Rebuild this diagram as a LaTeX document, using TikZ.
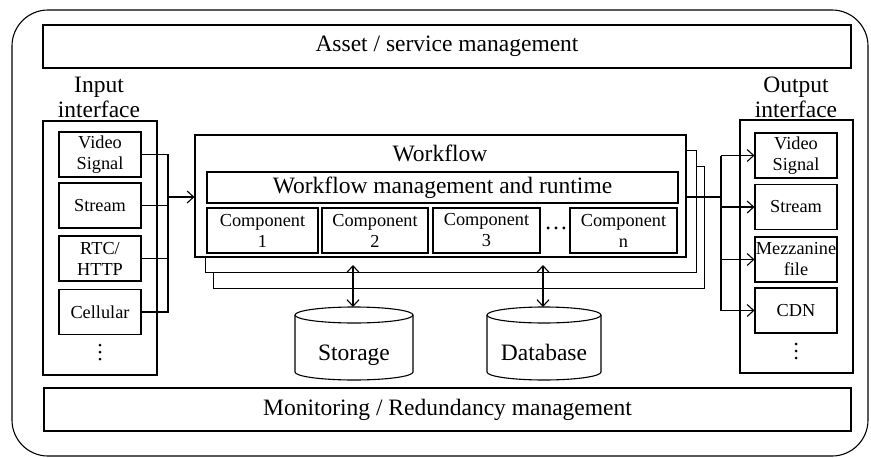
\documentclass[tikz,border=0pt]{standalone}
\usepackage{fontspec}
\setmainfont{Liberation Serif}
\usetikzlibrary{arrows.meta}

\begin{document}
\begin{tikzpicture}[x=1pt,y=-1pt,line width=1.1pt,
  big/.style={font=\fontsize{23.5}{25}\selectfont},
  small/.style={font=\fontsize{18.3}{21}\selectfont},
  panel/.style={draw,fill=white,inner sep=0pt,align=center},
  bigpanel/.style={panel,big},
  item/.style={panel,small,minimum width=82pt,minimum height=45pt},
  comp/.style={panel,small,minimum height=45pt},
  stack/.style={panel,minimum width=491pt,minimum height=122pt},
  barb/.tip={Straight Barb[length=6.5pt,width=12pt,line width=1.1pt]},
  arr/.style={-barb},
  darr/.style={barb-barb},
  dot/.style={circle,fill,inner sep=0pt,minimum size=3pt}]

\useasboundingbox (0,0) rectangle (871,458);

% outer frame
\draw[rounded corners=36pt] (12,10) rectangle (868,456);

% management bands
\node[bigpanel,minimum width=808pt,minimum height=43pt] (asset) at (447,46.5) {Asset / service management};
\node[bigpanel,minimum width=807pt,minimum height=43pt] (mon) at (447.5,409.5) {Monitoring / Redundancy management};

% input interface
\node[big,align=center,inner sep=0pt] (inlabel) at (99,97) {Input\\interface};
\node[panel,minimum width=114pt,minimum height=254pt] (inbox) at (100,248) {};
\node[item] (in1) at (100,154.5) {Video\\Signal};
\node[item] (in2) at (100,205.5) {Stream};
\node[item] (in3) at (100,258.5) {RTC/\\HTTP};
\node[item] (in4) at (100,312) {Cellular};
\foreach \k/\y in {1/345,2/352,3/359} \node[dot] (indot\k) at (100,\y) {};

% workflow stack
\node[stack] (wf3) at (459,227.5) {};
\node[stack] (wf2) at (451,211.5) {};
\node[stack] (wf1) at (440.5,196) {};
\node[big,inner sep=0pt] (wftitle) at (440,153) {Workflow};
\node[bigpanel,minimum width=471pt,minimum height=31pt] (wmr) at (442.5,187.5) {Workflow management and runtime};
\node[comp,minimum width=111pt] (c1) at (262.5,230.5) {Component\\1};
\node[comp,minimum width=106pt] (c2) at (375,230.5) {Component\\2};
\node[comp,minimum width=107pt] (c3) at (486.5,230.5) {Component\\3};
\node[big,inner sep=0pt] (cdots) at (556,228) {\dots};
\node[comp,minimum width=107pt] (cn) at (623.5,230.5) {Component\\n};

% output interface
\node[big,align=center,inner sep=0pt] (outlabel) at (796,97) {Output\\interface};
\node[panel,minimum width=113pt,minimum height=253pt] (outbox) at (796.5,246.5) {};
\node[item] (out1) at (796,155.5) {Video\\Signal};
\node[item] (out2) at (796,207) {Stream};
\node[item] (out3) at (796,259.5) {Mezzanine\\file};
\node[item] (out4) at (796,310.5) {CDN};
\foreach \k/\y in {1/344,2/351,3/358} \node[dot] (outdot\k) at (796,\y) {};

% storage cylinders
\draw[fill=white] (295,315) -- (295,372) arc[start angle=180,end angle=360,x radius=59pt,y radius=8pt] -- (413,315);
\draw[fill=white] (354,315) ellipse[x radius=59pt,y radius=8pt];
\node[big,inner sep=0pt,anchor=base] (storage) at (354,360) {Storage};
\coordinate (stTop) at (353,307);

\draw[fill=white] (487,315) -- (487,372) arc[start angle=180,end angle=360,x radius=57pt,y radius=8pt] -- (601,315);
\draw[fill=white] (544,315) ellipse[x radius=57pt,y radius=8pt];
\node[big,inner sep=0pt,anchor=base] (database) at (544,360) {Database};
\coordinate (dbTop) at (543,307);

% input bus
\coordinate (inbusTop) at (168,154.5);
\coordinate (inbusBot) at (168,312);
\coordinate (inbusOut) at (168,197);
\draw (in1.east) -- (inbusTop) -- (inbusBot) -- (in4.east);
\draw (in2.east) -- (in2.east -| inbusTop);
\draw (in3.east) -- (in3.east -| inbusTop);
\draw[arr] (inbusOut) -- (inbusOut -| wf1.west);

% output bus
\coordinate (outbusIn) at (721,197);
\draw (outbusIn -| wf1.east) -- (outbusIn);
\draw (721,155.5) -- (721,310.5);
\foreach \o in {out1,out2,out3,out4}
  \draw[arr] (\o.west -| outbusIn) -- (\o.west);

% storage / database access
\draw[darr] (stTop) -- (353,265);
\draw[darr] (dbTop) -- (543,265);

\end{tikzpicture}
\end{document}
